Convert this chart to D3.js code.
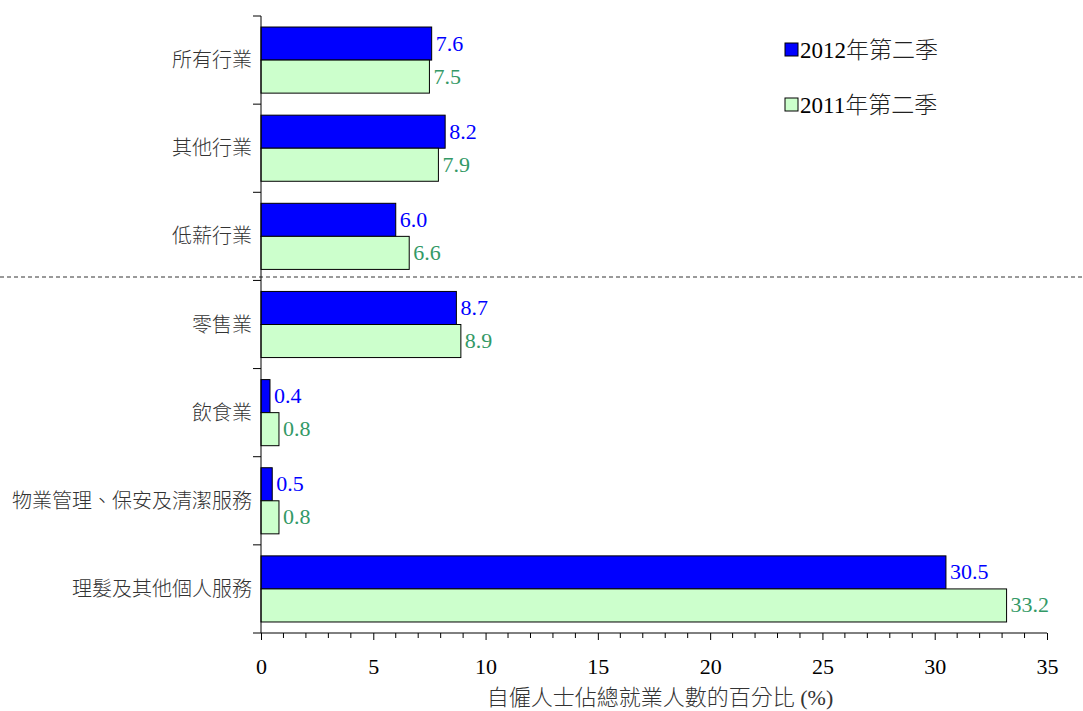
<!DOCTYPE html>
<html><head><meta charset="utf-8">
<script src="https://cdn.jsdelivr.net/npm/d3@7"></script>
<style>
html,body{margin:0;padding:0;background:#fff;}
text{font-family:"Liberation Serif","Times New Roman","Noto Sans CJK TC",serif;}
</style></head>
<body><svg id="c" width="1083" height="711"></svg>
<script>
const categories = ["所有行業","其他行業","低薪行業","零售業","飲食業","物業管理、保安及清潔服務","理髮及其他個人服務"];
const series2012 = [7.6, 8.2, 6.0, 8.7, 0.4, 0.5, 30.5];
const series2011 = [7.5, 7.9, 6.6, 8.9, 0.8, 0.8, 33.2];
const seriesYears = ["2012","2011"];
const seriesSuffix = "年第二季";
const xTicks = [0,5,10,15,20,25,30,35];
const xTitleMain = "自僱人士佔總就業人數的百分比";
const xTitleUnit = " (%)";

const svg = d3.select("#c");
const L = 261, R = 1047, T = 16, B = 633;
const x = d3.scaleLinear().domain([0,35]).range([L,R]);
const y = d3.scaleBand().domain(categories).range([T,B]).paddingInner(0.25).paddingOuter(0.125);
const sub = d3.scaleBand().domain([0,1]).range([0,y.bandwidth()]);
const fills = ["#0000FF","#CCFFCC"];
const labelCols = ["#0000FF","#339966"];
const data = [series2012, series2011];
const serif = "'Liberation Serif','Times New Roman',serif";
const cjk = "'Noto Sans CJK TC',sans-serif";

// bars
data.forEach((s,si)=>{
  svg.append("g").selectAll("rect").data(s).join("rect")
    .attr("x", x(0)).attr("y",(d,i)=>y(categories[i])+sub(si))
    .attr("width", d=>x(d)-x(0)).attr("height", sub.bandwidth())
    .attr("fill", fills[si]).attr("stroke","#000").attr("stroke-width",1);
  svg.append("g").selectAll("text").data(s).join("text")
    .attr("x", d=>x(d)+4).attr("y",(d,i)=>y(categories[i])+sub(si)+sub.bandwidth()/2+7)
    .attr("fill", labelCols[si]).attr("font-size",22).style("font-family",serif)
    .text(d=>d.toFixed(1));
});

// y axis
const step = (B-T)/categories.length;
svg.append("line").attr("x1",L).attr("x2",L).attr("y1",T).attr("y2",B).attr("stroke","#000");
d3.range(categories.length+1).forEach(i=>{
  svg.append("line").attr("x1",L-8).attr("x2",L).attr("y1",T+i*step).attr("y2",T+i*step).attr("stroke","#000");
});
svg.append("g").selectAll("text").data(categories).join("text")
  .attr("x",252).attr("y",d=>y(d)+y.bandwidth()/2+7)
  .attr("text-anchor","end").attr("font-size",20).attr("fill","#333")
  .style("font-family",cjk).style("font-weight",300)
  .text(d=>d);

// x axis
const xa = svg.append("g").attr("transform",`translate(0,${B})`)
  .call(d3.axisBottom(x).tickValues(xTicks).tickSize(7).tickPadding(18));
xa.attr("font-family",null);
xa.select(".domain").attr("stroke","#000").attr("d",`M${L},0H${R}`);
xa.selectAll(".tick line").attr("stroke","#000");
xa.selectAll(".tick text").attr("font-size",22).attr("fill","#000").style("font-family",serif);
svg.append("g").selectAll("line").data(d3.range(0,36).filter(v=>v%5!==0)).join("line")
  .attr("x1",d=>x(d)).attr("x2",d=>x(d)).attr("y1",B).attr("y2",B+5).attr("stroke","#000");
const tt = svg.append("text").attr("x",660).attr("y",705).attr("text-anchor","middle")
  .attr("font-size",22).attr("fill","#333");
tt.append("tspan").style("font-family",cjk).style("font-weight",300).text(xTitleMain);
tt.append("tspan").style("font-family",serif).text(xTitleUnit);

// dashed separator
svg.append("line").attr("x1",0).attr("x2",1083).attr("y1",277).attr("y2",277)
  .attr("stroke","#000").attr("stroke-dasharray","4,3").attr("stroke-width",0.8);

// legend
seriesYears.forEach((n,i)=>{
  const yy = 43 + i*55;
  svg.append("rect").attr("x",785).attr("y",yy).attr("width",13).attr("height",13)
    .attr("fill",fills[i]).attr("stroke","#000");
  const t = svg.append("text").attr("x",800).attr("y",yy+15).attr("font-size",23).attr("fill","#000");
  t.append("tspan").style("font-family",serif).text(n);
  t.append("tspan").style("font-family",cjk).style("font-weight",300).attr("fill","#222").text(seriesSuffix);
});
</script></body></html>
